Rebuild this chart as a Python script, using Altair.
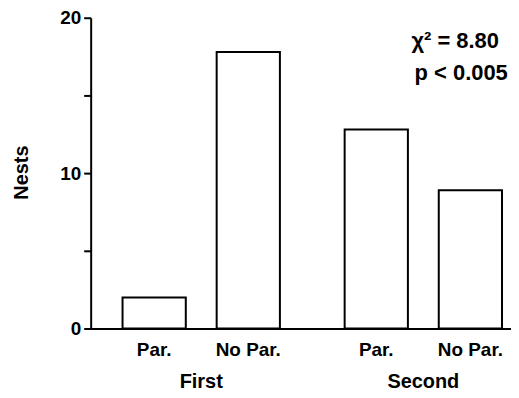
import altair as alt
import pandas as pd

groups = ["First", "First", "Second", "Second"]
treatments = ["Par.", "No Par.", "Par.", "No Par."]
nests = [2.0, 17.8, 12.8, 8.9]
y_ticks = [0, 5, 10, 15, 20]
stat_lines = ["χ² = 8.80", "p < 0.005"]

df = pd.DataFrame({"group": groups, "treatment": treatments, "nests": nests})

FONT = "Liberation Sans"
W, H = 422, 312

x_axis = alt.Axis(labelAngle=0, ticks=False, domainWidth=2, domainColor="black",
                  labelPadding=43, labelFontSize=20, labelFont=FONT,
                  labelFontWeight="bold", labelColor="black")
x_scale = alt.Scale(paddingInner=0.2915, paddingOuter=0.092, align=0.78)
xo_scale = alt.Scale(paddingInner=0.328, paddingOuter=0)


def x_enc():
    return alt.X("group:N", sort=["First", "Second"], title=None,
                 scale=x_scale, axis=x_axis)


def xo_enc():
    return alt.XOffset("treatment:N", sort=["Par.", "No Par."], scale=xo_scale)


bars = alt.Chart(df).mark_bar(fill="white", stroke="black", strokeWidth=2).encode(
    x=x_enc(),
    xOffset=xo_enc(),
    y=alt.Y("nests:Q", scale=alt.Scale(domain=[0, 20]),
            axis=alt.Axis(values=y_ticks,
                          labelExpr="datum.value % 10 == 0 ? datum.label : ''",
                          tickSize=7, tickWidth=2, tickColor="black",
                          domainWidth=2, domainColor="black", grid=False,
                          labelPadding=3, labelFontSize=19, labelFont=FONT,
                          labelFontWeight="bold", labelColor="black",
                          title="Nests", titleFont=FONT, titleFontSize=20,
                          titleFontWeight="bold", titleColor="black",
                          titleAngle=270, titleX=-69, titleY=155,
                          titleAlign="center", titleBaseline="middle")),
)

sub_labels = alt.Chart(df).mark_text(font=FONT, fontSize=19, fontWeight="bold",
                                     color="black", baseline="middle").encode(
    x=x_enc(),
    xOffset=xo_enc(),
    y=alt.value(334),
    text="treatment:N",
)

ann1 = alt.Chart(pd.DataFrame({"t": [stat_lines[0]]})).mark_text(
    font=FONT, fontSize=22, fontWeight="bold", color="black", align="center",
    baseline="middle").encode(x=alt.value(366), y=alt.value(23), text="t:N")
ann2 = alt.Chart(pd.DataFrame({"t": [stat_lines[1]]})).mark_text(
    font=FONT, fontSize=22, fontWeight="bold", color="black", align="center",
    baseline="middle").encode(x=alt.value(372), y=alt.value(56), text="t:N")

chart = alt.layer(bars, sub_labels, ann1, ann2).properties(
    width=W, height=H,
    autosize=alt.AutoSizeParams(type="none"),
    padding={"left": 83, "top": 9, "right": 0, "bottom": 67},
).configure(background="white").configure_view(stroke=None)

chart.save("out.html", embed_options={"renderer": "svg", "actions": False})
